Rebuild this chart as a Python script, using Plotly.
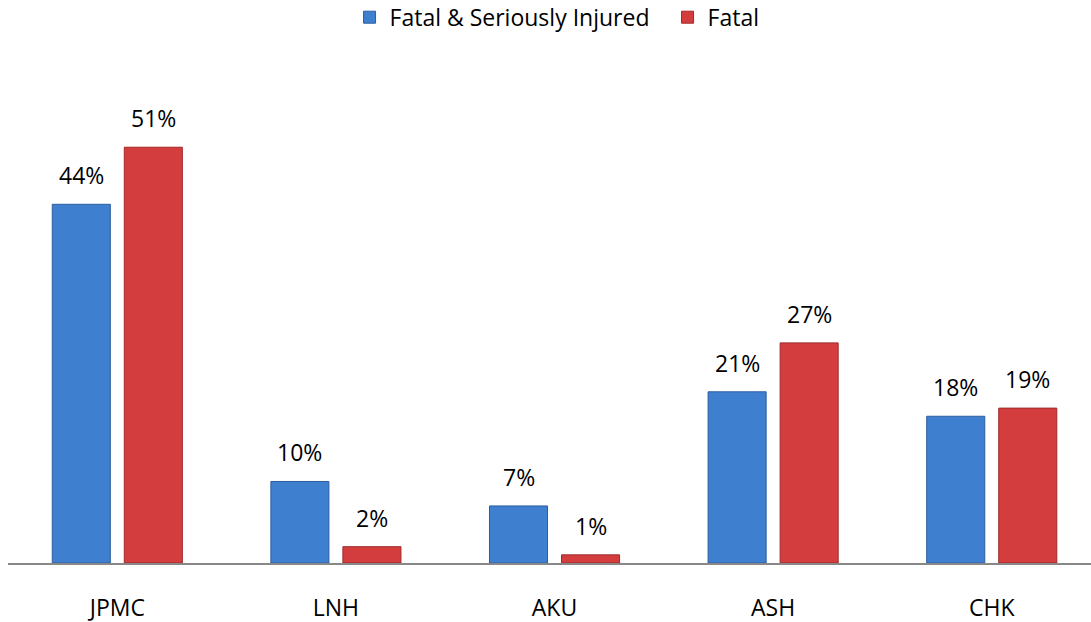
import plotly.graph_objects as go

hospitals = ["JPMC", "LNH", "AKU", "ASH", "CHK"]
fatal_serious = [44, 10, 7, 21, 18]
fatal = [51, 2, 1, 27, 19]

BLUE = "#3f7fcf"
BLUE_EDGE = "#2c5e9e"
RED = "#d43d3d"
RED_EDGE = "#9e2a2a"
FONT = "Open Sans"
SIZE = 23

fig = go.Figure()
fig.add_bar(
    x=hospitals,
    y=fatal_serious,
    name="Fatal & Seriously Injured",
    marker=dict(color=BLUE, line=dict(color=BLUE_EDGE, width=1)),
)
fig.add_bar(
    x=hospitals,
    y=fatal,
    name="Fatal",
    marker=dict(color=RED, line=dict(color=RED_EDGE, width=1)),
)

# value labels, sitting a little above each bar of the group
for series, shift in ((fatal_serious, -36), (fatal, 36)):
    for cat, val in zip(hospitals, series):
        fig.add_annotation(
            x=cat,
            y=val,
            text=f"{val}%",
            showarrow=False,
            xshift=shift,
            yshift=11,
            yanchor="bottom",
            font=dict(family=FONT, size=SIZE, color="#000000"),
        )

fig.update_layout(
    width=1091,
    height=622,
    barmode="group",
    bargap=0.341,
    bargroupgap=0.194,
    plot_bgcolor="white",
    paper_bgcolor="white",
    font=dict(family=FONT, size=SIZE, color="#000000"),
    margin=dict(l=8, r=0, t=60, b=59, autoexpand=False),
    showlegend=True,
    legend=dict(
        orientation="h",
        x=0.609,
        xanchor="center",
        y=1.085,
        yanchor="middle",
        font=dict(size=SIZE),
        traceorder="normal",
        entrywidth=273,
    ),
)

fig.update_xaxes(
    range=[-0.5, 4.454],
    showline=True,
    linecolor="#888888",
    linewidth=2,
    ticks="",
    showgrid=False,
    automargin=False,
    ticklabelstandoff=23,
    tickfont=dict(size=SIZE),
)
fig.update_yaxes(
    range=[0, 61.7],
    visible=False,
    showgrid=False,
    zeroline=False,
)

fig.write_html(
    "out.html",
    config={"displayModeBar": False},
    post_script="document.body.style.margin='0';",
)
